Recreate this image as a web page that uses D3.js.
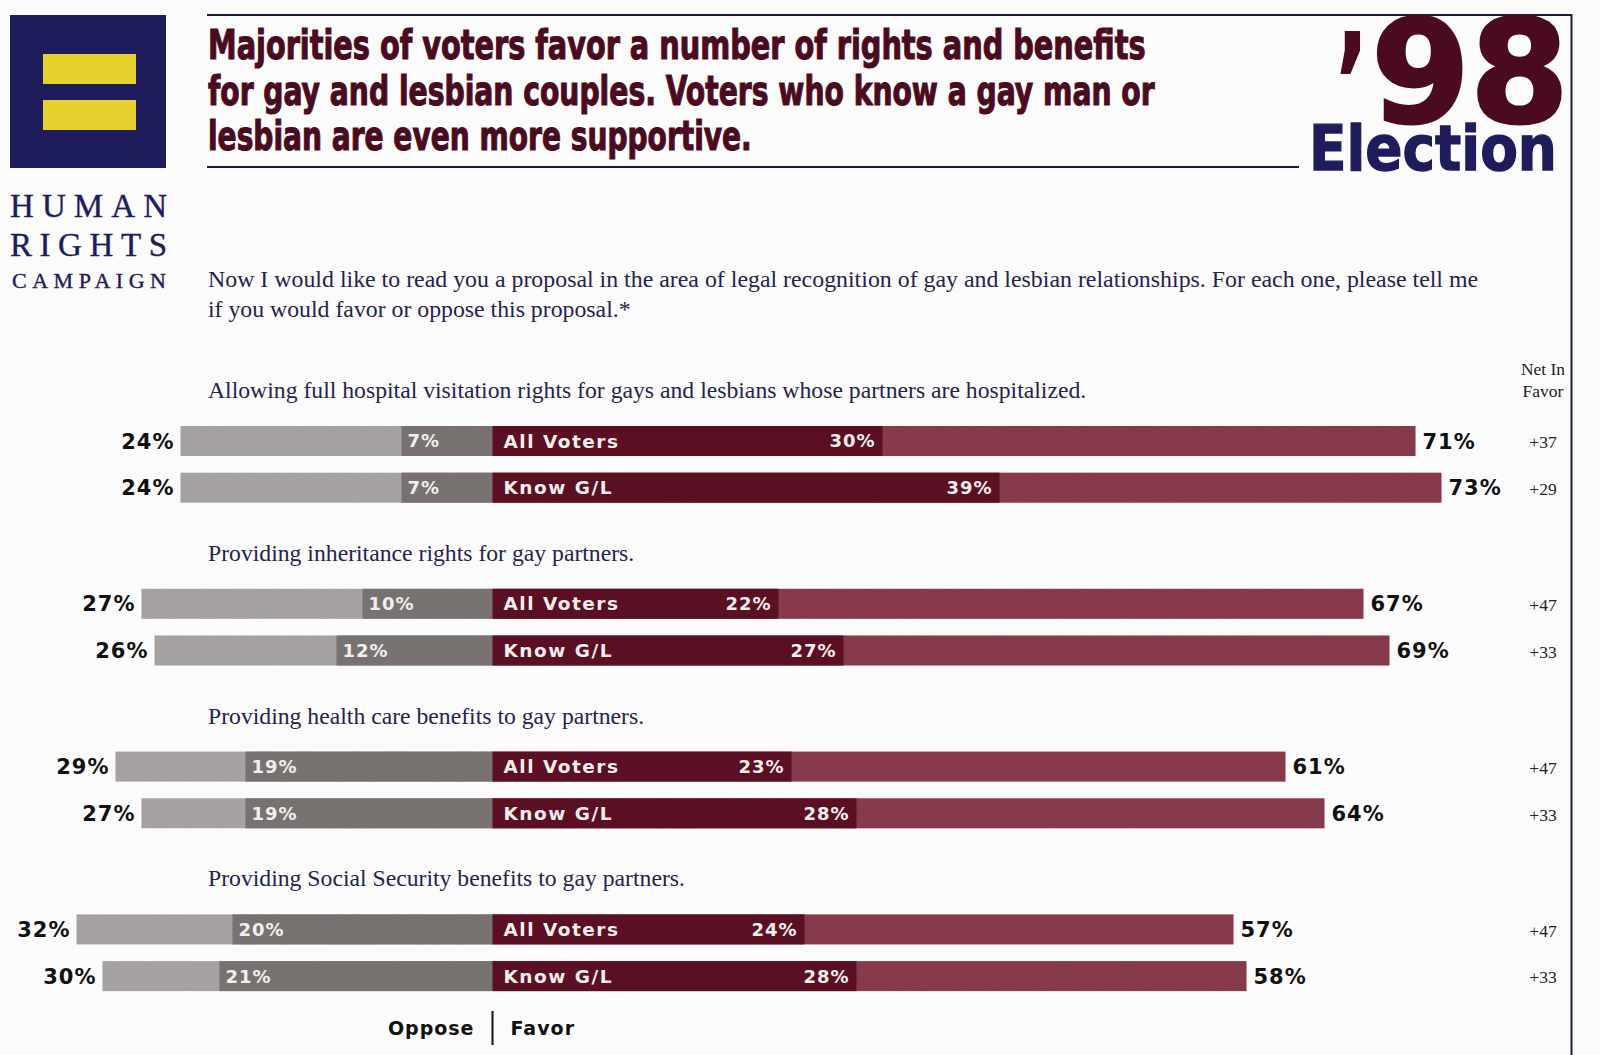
<!DOCTYPE html>
<html>
<head>
<meta charset="utf-8">
<script src="https://cdn.jsdelivr.net/npm/d3@7"></script>
<style>
  html, body { margin: 0; padding: 0; background: #fbfbfb; }
  svg { display: block; }
</style>
</head>
<body>
<div id="chart"></div>
<script>
// survey data
const questions = [
    "Allowing full hospital visitation rights for gays and lesbians whose partners are hospitalized.",
    "Providing inheritance rights for gay partners.",
    "Providing health care benefits to gay partners.",
    "Providing Social Security benefits to gay partners."
];
const groups = ["All Voters", "Know G/L"];
const opposeTotal = [24, 24, 27, 26, 29, 27, 32, 30];
const opposeStrong = [7, 7, 10, 12, 19, 19, 20, 21];
const favorStrong = [30, 39, 22, 27, 23, 28, 24, 28];
const favorTotal = [71, 73, 67, 69, 61, 64, 57, 58];
const netFavor = ["+37", "+29", "+47", "+33", "+47", "+33", "+47", "+33"];

const headline = [
    "Majorities of voters favor a number of rights and benefits",
    "for gay and lesbian couples. Voters who know a gay man or",
    "lesbian are even more supportive."
];
const intro = [
    "Now I would like to read you a proposal in the area of legal recognition of gay and lesbian relationships. For each one, please tell me",
    "if you would favor or oppose this proposal.*"
];

const width = 1600, height = 1055;
const navy = "#1f1c5c", maroon = "#4b0b1f";
const serif = "'Liberation Serif', 'DejaVu Serif', serif";
const sans = "'DejaVu Sans', 'Liberation Sans', sans-serif";
const narrow = "'Liberation Sans Narrow', 'DejaVu Sans Condensed', 'Liberation Sans', sans-serif";

const svg = d3.select("#chart")
    .append("svg")
    .attr("width", width)
    .attr("height", height)
    .style("background", "#fbfbfb");

// squeeze a text horizontally to a wanted width (keeps its real box honest)
function fitText(sel, x, y, wanted) {
    const natural = sel.node().getComputedTextLength();
    sel.attr("x", 0).attr("y", 0)
        .attr("transform", `translate(${x},${y}) scale(${wanted / natural},1)`);
    return sel;
}

// scanned-paper grain for the bars
const grain = svg.append("defs").append("filter").attr("id", "grain")
    .attr("x", 0).attr("y", 0).attr("width", 1).attr("height", 1);
grain.append("feTurbulence")
    .attr("type", "fractalNoise").attr("baseFrequency", 0.8)
    .attr("numOctaves", 2).attr("seed", 4).attr("result", "noise");
grain.append("feColorMatrix")
    .attr("in", "noise").attr("type", "matrix")
    .attr("values", "0 0 0 0 0  0 0 0 0 0  0 0 0 0 0  0 0 0 0.16 0")
    .attr("result", "dots");
grain.append("feComposite")
    .attr("in", "dots").attr("in2", "SourceGraphic")
    .attr("operator", "in").attr("result", "spots");
const merge = grain.append("feMerge");
merge.append("feMergeNode").attr("in", "SourceGraphic");
merge.append("feMergeNode").attr("in", "spots");

// FRAME LINES
svg.append("line")
    .attr("x1", 207).attr("x2", 1572).attr("y1", 15).attr("y2", 15)
    .attr("stroke", "#1c1a3c").attr("stroke-width", 2);
svg.append("line")
    .attr("x1", 1571.5).attr("x2", 1571.5).attr("y1", 14).attr("y2", height)
    .attr("stroke", "#1c1a4c").attr("stroke-width", 2);
svg.append("line")
    .attr("x1", 207).attr("x2", 1299).attr("y1", 167).attr("y2", 167)
    .attr("stroke", "#1c1a3c").attr("stroke-width", 2);

// LOGO
svg.append("rect")
    .attr("x", 10).attr("y", 15).attr("width", 156).attr("height", 153)
    .attr("fill", navy);
[54, 100].forEach(y => {
    svg.append("rect")
        .attr("x", 43).attr("y", y).attr("width", 93).attr("height", 30)
        .attr("fill", "#e5d12c");
});
const logoWords = [
    { t: "HUMAN", x: 10, y: 217, size: 33, len: 157 },
    { t: "RIGHTS", x: 10, y: 256, size: 33, len: 157 },
    { t: "CAMPAIGN", x: 12, y: 288, size: 22, len: 154 }
];
logoWords.forEach(w => {
    svg.append("text")
        .attr("x", w.x).attr("y", w.y)
        .attr("font-family", serif)
        .attr("font-size", w.size)
        .attr("fill", navy)
        .attr("stroke", navy).attr("stroke-width", 0.4)
        .attr("textLength", w.len)
        .attr("lengthAdjust", "spacing")
        .text(w.t);
});

// HEADLINE
const headLens = [938, 947, 544];
headline.forEach((line, i) => {
    const t = svg.append("text")
        .attr("font-family", narrow)
        .attr("font-weight", "bold")
        .attr("font-size", 41)
        .attr("fill", maroon)
        .attr("stroke", maroon).attr("stroke-width", 1.1)
        .text(line);
    fitText(t, 208, 59 + i * 45.5, headLens[i]);
});

const apos = svg.append("text")
    .attr("font-family", sans).attr("font-weight", "bold")
    .attr("font-size", 132)
    .attr("fill", maroon)
    .attr("stroke", maroon).attr("stroke-width", 2)
    .text("\u2019");
fitText(apos, 1336, 128, 32);
const year = svg.append("text")
    .attr("font-family", sans).attr("font-weight", "bold")
    .attr("font-size", 142)
    .attr("fill", maroon)
    .attr("stroke", maroon).attr("stroke-width", 3)
    .text("98");
fitText(year, 1371, 122, 198);
const election = svg.append("text")
    .attr("font-family", sans).attr("font-weight", "bold")
    .attr("font-size", 62)
    .attr("fill", navy)
    .attr("stroke", navy).attr("stroke-width", 1.4)
    .text("Election");
fitText(election, 1309, 170, 248);

// INTRO
const introLens = [1271, 423];
intro.forEach((line, i) => {
    const t = svg.append("text")
        .attr("font-family", serif)
        .attr("font-size", 23.5)
        .attr("fill", "#25234c")
        .text(line);
    fitText(t, 208, 287 + i * 30, introLens[i]);
});

// NET IN FAVOR HEADER
svg.append("text")
    .attr("x", 1543).attr("y", 375)
    .attr("text-anchor", "middle")
    .attr("font-family", serif).attr("font-size", 17.5)
    .attr("fill", "#222").text("Net In");
svg.append("text")
    .attr("x", 1543).attr("y", 397)
    .attr("text-anchor", "middle")
    .attr("font-family", serif).attr("font-size", 17.5)
    .attr("fill", "#222").text("Favor");

// SCALES
const xScale = d3.scaleLinear()
    .domain([-40, 80])
    .range([492.5 - 520, 492.5 + 1040]);
const groupScale = d3.scaleLinear()
    .domain([0, questions.length - 1])
    .range([426, 914.4]);
const barH = 30;
const rowGap = 46.7;

const rows = opposeTotal.map((d, i) => ({
    q: Math.floor(i / 2),
    group: groups[i % 2],
    opposeTotal: d,
    opposeStrong: opposeStrong[i],
    favorStrong: favorStrong[i],
    favorTotal: favorTotal[i],
    net: netFavor[i],
    y: groupScale(Math.floor(i / 2)) + (i % 2) * rowGap
}));

// QUESTION LABELS
svg.selectAll(".question")
    .data(questions)
    .enter()
    .append("text")
    .attr("class", "question")
    .attr("x", 208)
    .attr("y", (d, i) => groupScale(i) - 28)
    .attr("font-family", serif)
    .attr("font-size", 23.7)
    .attr("fill", "#25234c")
    .text(d => d);

const bars = svg.selectAll(".row")
    .data(rows)
    .enter()
    .append("g")
    .attr("class", "row")
    .attr("transform", d => `translate(0, ${d.y})`);

// light oppose
bars.append("rect")
    .attr("x", d => xScale(-d.opposeTotal))
    .attr("width", d => xScale(0) - xScale(-d.opposeTotal))
    .attr("height", barH)
    .attr("fill", "#aca8a7")
    .attr("filter", "url(#grain)");
// strong oppose
bars.append("rect")
    .attr("x", d => xScale(-d.opposeStrong))
    .attr("width", d => xScale(0) - xScale(-d.opposeStrong))
    .attr("height", barH)
    .attr("fill", "#7d7776")
    .attr("filter", "url(#grain)");
// light favor
bars.append("rect")
    .attr("x", xScale(0))
    .attr("width", d => xScale(d.favorTotal) - xScale(0))
    .attr("height", barH)
    .attr("fill", "#8c3c50")
    .attr("filter", "url(#grain)");
// strong favor
bars.append("rect")
    .attr("x", xScale(0))
    .attr("width", d => xScale(d.favorStrong) - xScale(0))
    .attr("height", barH)
    .attr("fill", "#5a0f22");

const labelStyle = sel => sel
    .attr("y", barH / 2)
    .attr("dy", "0.36em")
    .attr("font-family", sans)
    .attr("font-weight", "bold");

bars.append("text")
    .call(labelStyle)
    .attr("x", d => xScale(-d.opposeTotal) - 6)
    .attr("text-anchor", "end")
    .attr("font-size", 21)
    .attr("letter-spacing", 1)
    .attr("fill", "#111")
    .text(d => d.opposeTotal + "%");
bars.append("text")
    .call(labelStyle)
    .attr("x", d => xScale(d.favorTotal) + 7)
    .attr("font-size", 21)
    .attr("letter-spacing", 1)
    .attr("fill", "#111")
    .text(d => d.favorTotal + "%");
bars.append("text")
    .call(labelStyle)
    .attr("x", d => xScale(-d.opposeStrong) + 6)
    .attr("font-size", 18)
    .attr("letter-spacing", 1)
    .attr("fill", "#f2eeee")
    .text(d => d.opposeStrong + "%");
bars.append("text")
    .call(labelStyle)
    .attr("x", d => xScale(d.favorStrong) - 7)
    .attr("text-anchor", "end")
    .attr("font-size", 18)
    .attr("letter-spacing", 1)
    .attr("fill", "#f2eeee")
    .text(d => d.favorStrong + "%");
bars.append("text")
    .call(labelStyle)
    .attr("x", xScale(0) + 11)
    .attr("font-size", 18.5)
    .attr("letter-spacing", 1.5)
    .attr("fill", "#f4eeee")
    .text(d => d.group);
bars.append("text")
    .attr("x", 1543)
    .attr("y", barH / 2)
    .attr("dy", "0.42em")
    .attr("text-anchor", "middle")
    .attr("font-family", serif)
    .attr("font-size", 17.5)
    .attr("fill", "#222")
    .text(d => d.net);

// LEGEND
svg.append("text")
    .attr("x", xScale(0) - 18).attr("y", 1035)
    .attr("text-anchor", "end")
    .attr("font-family", sans).attr("font-weight", "bold")
    .attr("font-size", 19).attr("letter-spacing", 1)
    .attr("fill", "#111").text("Oppose");
svg.append("line")
    .attr("x1", xScale(0)).attr("x2", xScale(0))
    .attr("y1", 1011).attr("y2", 1045)
    .attr("stroke", "#111").attr("stroke-width", 2);
svg.append("text")
    .attr("x", xScale(0) + 18).attr("y", 1035)
    .attr("font-family", sans).attr("font-weight", "bold")
    .attr("font-size", 19).attr("letter-spacing", 1)
    .attr("fill", "#111").text("Favor");
</script>
</body>
</html>
